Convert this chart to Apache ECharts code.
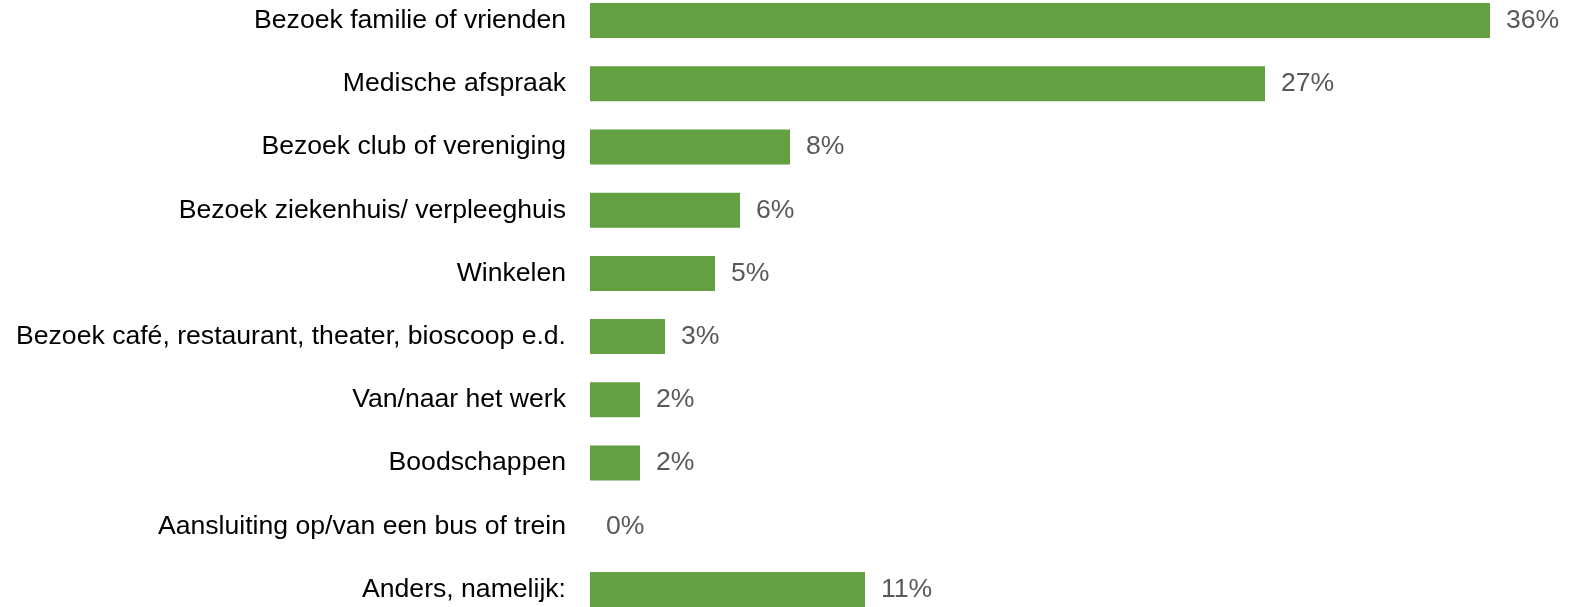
<!DOCTYPE html>
<html>
<head>
<meta charset="utf-8">
<script src="https://cdn.jsdelivr.net/npm/echarts@6/dist/echarts.min.js"></script>
<style>
  html, body { margin: 0; padding: 0; background: #ffffff; overflow: hidden; }
  /* the plot band is a little taller than the window: first and last rows sit at the edges */
  #chart { position: absolute; left: 0; top: -11px; width: 1569px; height: 632px; }
</style>
</head>
<body>
<div id="chart"></div>
<script>
// Reasons for the trip, share of respondents (%)
const categories = [
  'Bezoek familie of vrienden',
  'Medische afspraak',
  'Bezoek club of vereniging',
  'Bezoek ziekenhuis/ verpleeghuis',
  'Winkelen',
  'Bezoek café, restaurant, theater, bioscoop e.d.',
  'Van/naar het werk',
  'Boodschappen',
  'Aansluiting op/van een bus of trein',
  'Anders, namelijk:'
];
const percentages = [36, 27, 8, 6, 5, 3, 2, 2, 0, 11];

const chart = echarts.init(document.getElementById('chart'), null, { renderer: 'canvas' });

chart.setOption({
  animation: false,
  grid: { left: 590, right: 4, top: 0, bottom: 0, containLabel: false },
  xAxis: {
    type: 'value',
    min: 0,
    max: 39,
    show: false
  },
  yAxis: {
    type: 'category',
    data: categories,
    inverse: true,
    axisLine: { show: false },
    axisTick: { show: false },
    splitLine: { show: false },
    axisLabel: {
      margin: 24,
      color: '#000000',
      fontFamily: '"Liberation Sans", Arial, sans-serif',
      fontSize: 26.6
    }
  },
  series: [{
    type: 'bar',
    data: percentages,
    barWidth: 35,
    itemStyle: { color: '#62a042' },
    label: {
      show: true,
      position: 'right',
      distance: 16,
      formatter: '{c}%',
      color: '#595959',
      fontFamily: '"Liberation Sans", Arial, sans-serif',
      fontSize: 26.6
    }
  }]
});
</script>
</body>
</html>
